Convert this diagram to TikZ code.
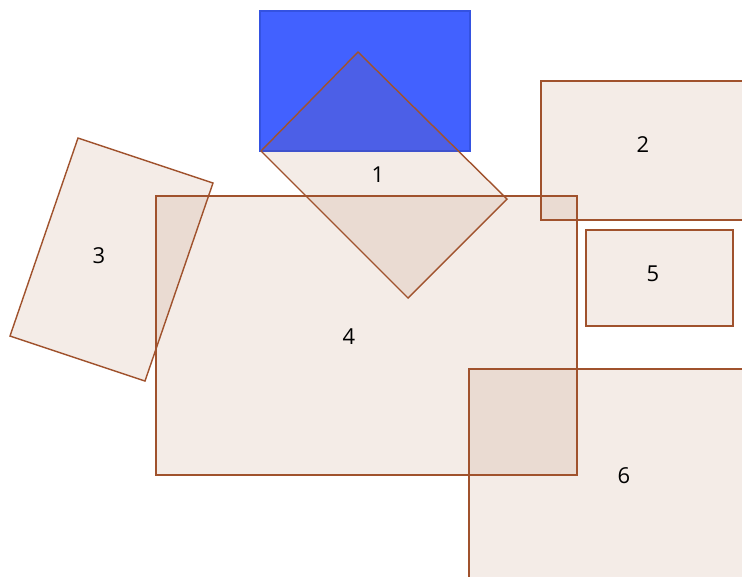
\documentclass[tikz,border=0pt]{standalone}
\usepackage{fontspec}
\setsansfont{Open Sans}
\usepackage{xcolor}
\usepackage{tikz}
\definecolor{brun}{RGB}{160,82,45}
\definecolor{bleuvif}{RGB}{66,97,255}
\definecolor{bleutrait}{RGB}{52,82,225}

\begin{document}
\begin{tikzpicture}[x=0.02cm, y=-0.02cm, font=\sffamily\fontsize{12.5}{14}\selectfont,
  forme/.style={draw=brun, line width=0.8pt, fill=brun, fill opacity=0.11},
  bloc/.style={draw=bleutrait, line width=0.6pt, fill=bleuvif},
  etiquette/.style={text=black, inner sep=1pt}]
\clip (0,0) rectangle (742,576);
\fill[white] (0,0) rectangle (742,576);
\filldraw[bloc] (260,11) rectangle (470,151);
\filldraw[forme] (541,81) rectangle (760,220);
\filldraw[forme] (586,230) rectangle (733,326);
\filldraw[forme] (156,196) rectangle (577,475);
\filldraw[forme] (469,369) rectangle (760,590);
\filldraw[forme] (78,138) -- (213,183) -- (145,381) -- (10,336) -- cycle;
\filldraw[forme] (358,52) -- (507,199) -- (408,298) -- (261,151) -- cycle;
\node[etiquette] (n1) at (378,175) {1};
\node[etiquette] (n2) at (643,145) {2};
\node[etiquette] (n3) at (99,256) {3};
\node[etiquette] (n4) at (349,337) {4};
\node[etiquette] (n5) at (653,274) {5};
\node[etiquette] (n6) at (624,476) {6};
\end{tikzpicture}
\end{document}
